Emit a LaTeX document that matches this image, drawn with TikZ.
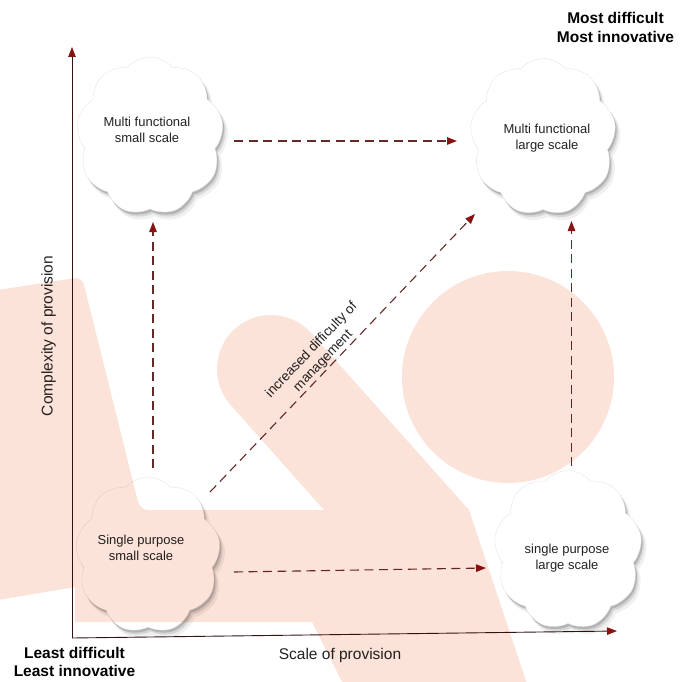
\documentclass[tikz,border=0pt]{standalone}
\usepackage{fontspec}
\setmainfont{Liberation Sans}
\usetikzlibrary{shapes.symbols,shadows,arrows.meta,calc}
\definecolor{wm}{RGB}{252,227,217}
\definecolor{arrowred}{RGB}{135,20,20}
\definecolor{dashcol}{RGB}{100,42,42}
\definecolor{axiscol}{RGB}{50,20,20}
\definecolor{txt}{RGB}{35,35,35}
\begin{document}
\begin{tikzpicture}[x=1pt,y=-1pt,
  cloudbox/.style={cloud, cloud puffs=9, cloud puff arc=100, cloud ignores aspect,
    fill=white, draw=black!12, line width=0.3pt, inner sep=0pt,
    general shadow={fill=black, opacity=0.06, shadow xshift=4.5pt, shadow yshift=-6.5pt, shadow scale=1.01},
    general shadow={fill=black, opacity=0.10, shadow xshift=3pt, shadow yshift=-4.5pt},
    general shadow={fill=black, opacity=0.16, shadow xshift=1.5pt, shadow yshift=-2.5pt}},
  cloudtext/.style={align=center, text=txt, font=\fontsize{13}{16}\selectfont, inner sep=0pt},
  flow/.style={dashcol, line width=1.1pt, dash pattern=on 9pt off 5.5pt,
    -{Triangle[length=10pt,width=7.5pt,fill=arrowred,color=arrowred]}},
  axis/.style={axiscol, line width=0.9pt,
    -{Triangle[length=10pt,width=7.5pt,fill=arrowred,color=arrowred]}},
  corner/.style={align=center, font=\bfseries\fontsize{15.5}{18.5}\selectfont, inner sep=0pt},
  axislabel/.style={font=\fontsize{15.5}{18}\selectfont, text=txt, inner sep=0pt}]

\fill[white] (0,0) rectangle (680,682);
\useasboundingbox (0,0) rectangle (680,682);

% axes
\coordinate (O) at (72,638);
\coordinate (yend) at (72,47);
\coordinate (xend) at (617,631);
\draw[axis] (O) -- (yend);
\draw[axis] (O) -- (xend);

% clouds
\node[cloudbox, minimum width=147pt, minimum height=158pt] (tl) at (150,136) {};
\node[cloudbox, minimum width=146pt, minimum height=157pt] (tr) at (543,137) {};
\node[cloudbox, minimum width=145pt, minimum height=156pt] (bl) at (148,555) {};
\node[cloudbox, minimum width=148pt, minimum height=159pt] (br) at (568,550) {};

\node[cloudtext] (tlt) at (147,130) {Multi functional\\small scale};
\node[cloudtext] (trt) at (547,138) {Multi functional\\large scale};
\node[cloudtext] (blt) at (141,548) {Single purpose\\small scale};
\node[cloudtext] (brt) at (567,558) {single purpose\\large scale};

% connectors
\draw[flow] ($(tl.center)+(84,5)$) -- ($(tr.center)+(-86,4)$);
\draw[flow] ($(bl.center)+(5,-87)$) -- ($(tl.center)+(3,86)$);
\draw[flow] ($(br.center)+(3.5,-84)$) -- ($(tr.center)+(28.5,84)$);
\draw[flow] ($(bl.center)+(86,17)$) -- ($(br.center)+(-82,18)$);
\draw[flow] ($(bl.center)+(62,-63)$) -- ($(tr.center)+(-68,77)$)
  node[pos=0.45, sloped, above=1.5pt, align=center, text=txt, inner sep=0pt,
       font=\fontsize{13.5}{16}\selectfont] (diag) {increased difficulty of\\management};

% labels
\node[corner] (most) at (615.5,27.5) {Most difficult\\Most innovative};
\node[corner] (least) at (74.5,662) {Least difficult\\Least innovative};
\node[axislabel] (xlab) at (340,655) {Scale of provision};
\node[axislabel, rotate=90] (ylab) at (48.5,336) {Complexity of provision};

% watermark overlay
\begin{scope}[blend mode=multiply]
\fill[wm] (-2,290) [rounded corners=8pt] -- (82,277) -- (140,510) [sharp corners] -- (324,510)
  -- (230.7,405) arc[start angle=138.2, end angle=318.2, radius=54]
  -- (469,510) -- (527,684) -- (343,684) -- (312,622) -- (75,622) -- (75,587) -- (-2,600) -- cycle;
\fill[wm] (508,377) circle[radius=106];
\end{scope}
\end{tikzpicture}
\end{document}
